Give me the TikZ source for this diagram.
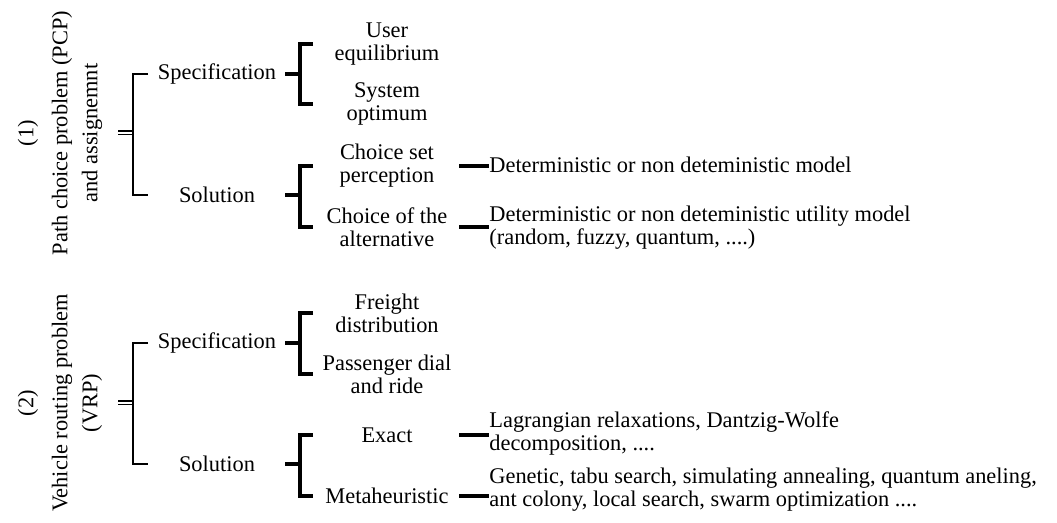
\documentclass[tikz,border=0pt]{standalone}
\usepackage{fontspec}
\setmainfont{Liberation Serif}
\usepackage{tikz}
\usetikzlibrary{calc}
\tikzset{
    % brackets of the tree
    brace/.style={line width=1.3pt, black},
    subbrace/.style={line width=1.6pt, black},
    stub/.style={line width=2pt, black},
    twin/.style={double, double distance=0.7pt, line width=0.9pt, black},
    grp/.style={rotate=90, align=center, inner sep=0pt, font=\fontsize{11.2}{15}\selectfont},
    lvl/.style={inner sep=0pt, font=\fontsize{11.2}{11.5}\selectfont},
    leaf/.style={align=center, inner sep=0pt, font=\fontsize{11.2}{11.5}\selectfont},
    note/.style={anchor=west, align=left, inner sep=0pt, font=\fontsize{11.2}{11.5}\selectfont}
}
\begin{document}
\begin{tikzpicture}[x=0.5pt, y=-0.5pt]
	\useasboundingbox (0,0) rectangle (1057,523);

	% (1) path choice
	\node [grp] (g1) at (60,133) {(1)\\[2pt]Path choice problem (PCP)\\and assignemnt};
	\node [lvl] (spec1) at (217,74) {Specification};
	\node [lvl] (sol1) at (217,195) {Solution};
	\node [leaf] (ue) at (387,44) {User\\equilibrium};
	\node [leaf] (so) at (387,104) {System\\optimum};
	\node [leaf] (csp) at (387,166) {Choice set\\perception};
	\node [leaf] (cta) at (387,227) {Choice of the\\alternative};
	\node [note] (m1) at (489,165) {Deterministic or non deteministic model};
	\node [note] (m2) at (489,228) {Deterministic or non deteministic utility model\\(random, fuzzy, quantum, ....)};

	\coordinate (b1) at (133,133);
	\coordinate (k1) at (300,74);
	\coordinate (k2) at (300,195);
	\coordinate (c1) at (459,0);

	\draw[twin] (b1) -- ++(-15,0);
	\draw[brace] ($(b1 |- spec1)+(15,0)$) -- (b1 |- spec1) -- (b1 |- sol1) -- ++(15,0);
	\draw[stub] (k1) -- ++(-15,0);
	\draw[subbrace] ($(k1 |- ue)+(13,0)$) -- (k1 |- ue) -- (k1 |- so) -- ++(13,0);
	\draw[stub] (k2) -- ++(-15,0);
	\draw[subbrace] ($(k2 |- csp)+(13,0)$) -- (k2 |- csp) -- (k2 |- cta) -- ++(13,0);
	\draw[stub] (c1 |- csp) -- (m1.west |- csp);
	\draw[stub] (c1 |- cta) -- (m2.west |- cta);

	% (2) vehicle routing
	\node [grp] (g2) at (60,403) {(2)\\[2pt]Vehicle routing problem\\(VRP)};
	\node [lvl] (spec2) at (217,343) {Specification};
	\node [lvl] (sol2) at (217,464) {Solution};
	\node [leaf] (fd) at (387,313) {Freight\\distribution};
	\node [leaf] (pdr) at (387,374) {Passenger dial\\and ride};
	\node [leaf] (ex) at (387,435) {Exact};
	\node [leaf] (mh) at (387,496) {Metaheuristic};
	\node [note] (n1) at (489,434) {Lagrangian relaxations, Dantzig-Wolfe\\decomposition, ....};
	\node [note] (n2) at (489,490) {Genetic, tabu search, simulating annealing, quantum aneling,\\ant colony, local search, swarm optimization ....};

	\coordinate (b2) at (133,403);
	\coordinate (k3) at (300,343);
	\coordinate (k4) at (300,464);

	\draw[twin] (b2) -- ++(-15,0);
	\draw[brace] ($(b2 |- spec2)+(15,0)$) -- (b2 |- spec2) -- (b2 |- sol2) -- ++(15,0);
	\draw[stub] (k3) -- ++(-15,0);
	\draw[subbrace] ($(k3 |- fd)+(13,0)$) -- (k3 |- fd) -- (k3 |- pdr) -- ++(13,0);
	\draw[stub] (k4) -- ++(-15,0);
	\draw[subbrace] ($(k4 |- ex)+(13,0)$) -- (k4 |- ex) -- (k4 |- mh) -- ++(13,0);
	\draw[stub] (c1 |- ex) -- (n1.west |- ex);
	\draw[stub] (c1 |- mh) -- (n2.west |- mh);
\end{tikzpicture}
\end{document}
